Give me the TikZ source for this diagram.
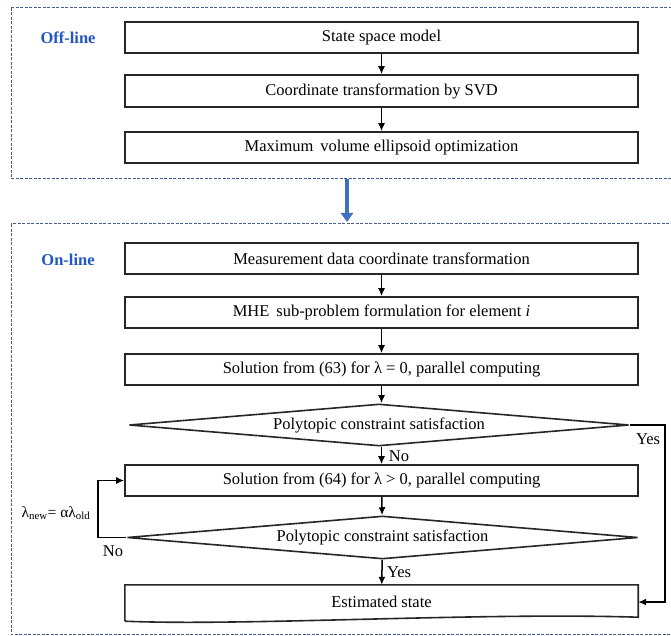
\documentclass[tikz,border=0pt]{standalone}
\usepackage{fontspec}
\setmainfont{Liberation Serif}
\usetikzlibrary{shapes.geometric,arrows.meta,calc}
\definecolor{dashblue}{HTML}{4A5C8E}
\definecolor{tagblue}{HTML}{2356C0}
\definecolor{arrowblue}{HTML}{3D72C0}
\definecolor{linegray}{HTML}{262626}
\begin{document}
\begin{tikzpicture}[x=1pt,y=-1pt, font=\fontsize{16.5}{19}\selectfont,
 box/.style={draw=linegray, line width=1.6pt, minimum width=513pt, minimum height=31pt, inner sep=0pt},
 dec/.style={draw=linegray, diamond, line width=1.6pt, aspect=12, minimum width=500pt, minimum height=42pt, inner sep=0pt},
 arr/.style={-{Latex[length=8pt,width=7pt]}, line width=1.5pt},
 region/.style={draw=dashblue, dash pattern=on 3pt off 1.5pt, line width=1pt},
 tag/.style={text=tagblue, font=\fontsize{16.5}{19}\selectfont\bfseries},
 lab/.style={font=\fontsize{16.5}{19}\selectfont, inner sep=1pt},
 bigarr/.style={draw=arrowblue, line width=3.2pt, -{Triangle[length=9pt,width=12pt]}},
]
\useasboundingbox (0,0) rectangle (671,636);
% regions
\draw[region] (11,8) rectangle (690,179);
\draw[region] (11,224) rectangle (690,634.5);
\node[tag] (offtag) at (68,38) {Off-line};
\node[tag] (ontag) at (68,260) {On-line};
% off-line chain
\node[box] (b1) at (381.5,37.5) {State space model};
\node[box, minimum height=32pt] (b2) at (381.5,91) {Coordinate transformation by SVD};
\node[box] (b3) at (381.5,147.5) {Maximum\, volume ellipsoid optimization};
\draw[arr] (b1) -- (b2);
\draw[arr] (b2) -- (b3);
% transfer arrow
\coordinate (ba) at (347,179);
\coordinate (bb) at (347,222);
\draw[bigarr] (ba) -- (bb);
% on-line chain
\node[box] (m1) at (381.5,258.5) {Measurement data coordinate transformation};
\node[box] (m2) at (381.5,312.5) {MHE\, sub-problem formulation for element \textit{i}};
\node[box] (m3) at (381.5,369.5) {Solution from (63) for λ = 0, parallel computing};
\node[dec] (d1) at (379,425) {Polytopic constraint satisfaction};
\node[box] (m4) at (381.5,480.5) {Solution from (64) for λ {\textgreater} 0, parallel computing};
\node[dec, minimum width=511pt, minimum height=43pt] (d2) at (382.5,537.5) {Polytopic constraint satisfaction};
\node[minimum width=513pt, minimum height=34pt, inner sep=0pt] (est) at (381.5,602) {Estimated state};
\draw[draw=linegray, line width=1.6pt] ($(est.south west)+(0,2)$) -- (est.north west) -- (est.north east) -- ($(est.south east)+(0,-2)$)
  .. controls ($(est.south east)+(-160,-7)$) and ($(est.south west)+(120,7)$) .. ($(est.south west)+(0,2)$);
\draw[arr] (m1) -- (m2);
\draw[arr] (m2) -- (m3);
\draw[arr] (m3) -- (d1.north -| m3.south);
\draw[arr] (d1.south -| m3.south) -- (m4);
\draw[arr] (m4) -- (d2);
\draw[arr] (d2) -- (est);
% yes bypass
\coordinate (yr) at (665,0);
\draw[arr] (d1.east) -- (d1.east -| yr) |- (est.east);
% no loop
\coordinate (nl) at (98,0);
\draw[arr] (d2.west) -- (d2.west -| nl) |- (m4.west);
% labels
\node[lab] (no1) at (399,456) {No};
\node[lab] (yes2) at (399,572) {Yes};
\node[lab] (yes1) at (648,439) {Yes};
\node[lab] (no2) at (113,551) {No};
\node[lab, font=\fontsize{15.5}{18}\selectfont] (lam) at (56,513) {λ\textsubscript{new}= αλ\textsubscript{old}};
\end{tikzpicture}
\end{document}
